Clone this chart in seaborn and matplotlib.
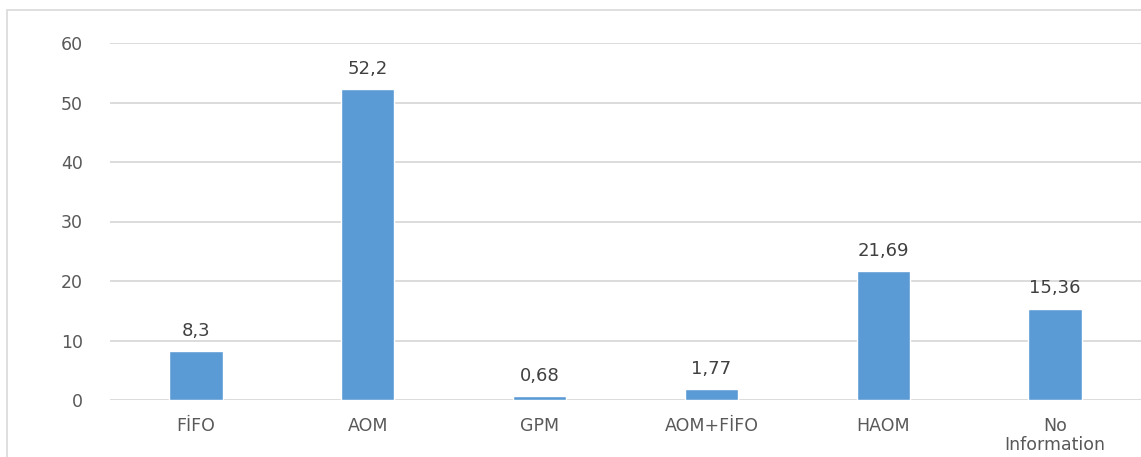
import matplotlib
matplotlib.use("Agg")
import matplotlib.pyplot as plt
import seaborn as sns
import pandas as pd
from matplotlib.patches import Rectangle

categories = ["FİFO", "AOM", "GPM", "AOM+FİFO", "HAOM", "No\nInformation"]
values = [8.3, 52.2, 0.68, 1.77, 21.69, 15.36]
value_labels = ["8,3", "52,2", "0,68", "1,77", "21,69", "15,36"]
y_ticks = [0, 10, 20, 30, 40, 50, 60]

sns.set_theme(style="white")
plt.rcParams["font.family"] = ["DejaVu Sans"]

W, H = 1141, 457
fig = plt.figure(figsize=(W / 100, H / 100), dpi=100)
ax = fig.add_axes([110 / W, 1 - 400 / H, 1 - 110 / W, (400 - 43) / H])

df = pd.DataFrame({"cat": categories, "val": values})
sns.barplot(data=df, x="cat", y="val", color="#5B9BD5", saturation=1,
            width=0.31, ax=ax, zorder=3)

ax.set_ylim(0, 60)
ax.set_xlim(-0.5, 5.5)
ax.set_yticks(y_ticks)
ax.set_yticklabels([str(t) for t in y_ticks])
ax.set_xlabel("")
ax.set_ylabel("")
ax.grid(axis="y", color="#D9D9D9", linewidth=1.3, zorder=0)
for s in ax.spines.values():
    s.set_visible(False)
ax.tick_params(axis="both", length=0, colors="#595959", labelsize=12.5)
ax.tick_params(axis="y", pad=19.5)
ax.tick_params(axis="x", pad=12)
for t in ax.get_xticklabels():
    t.set_linespacing(1.1)

for i, (v, lab) in enumerate(zip(values, value_labels)):
    ax.annotate(lab, (i, v), xytext=(0, 8), textcoords="offset points",
                ha="center", va="bottom", fontsize=13, color="#404040")

fig.patches.append(Rectangle((7 / W, -0.1), 1.2, 1.1 - 10 / H,
                             transform=fig.transFigure, fill=False,
                             edgecolor="#D9D9D9", linewidth=1.2))

fig.savefig("out.png", dpi=100, facecolor="white")
